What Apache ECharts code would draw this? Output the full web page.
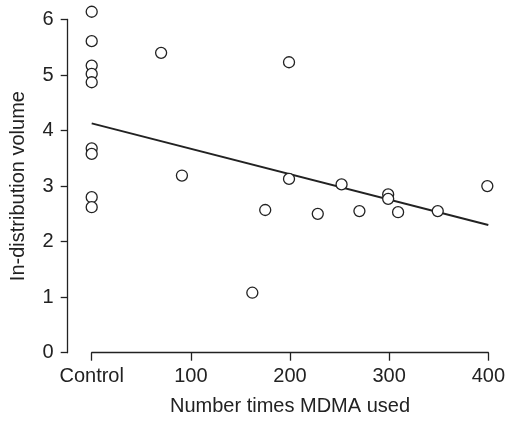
<!DOCTYPE html>
<html>
<head>
<meta charset="utf-8">
<title>In-distribution volume vs MDMA use</title>
<script src="https://cdn.jsdelivr.net/npm/echarts@6/dist/echarts.min.js"></script>
<style>
  html, body { margin: 0; padding: 0; background: #fff; }
  #chart { width: 508px; height: 423px; }
</style>
</head>
<body>
<div id="chart"></div>
<script>
// control subjects (x = 0)
const controlY = [6.14, 5.61, 5.17, 5.02, 4.87, 3.68, 3.58, 2.80, 2.62];

// MDMA users: times used, volume
const userX = [70, 91, 162, 175, 199, 199, 228, 252, 270, 299, 299, 309, 349, 399];
const userY = [5.40, 3.19, 1.08, 2.57, 5.23, 3.13, 2.50, 3.03, 2.55, 2.85, 2.77, 2.53, 2.55, 3.00];

// fitted regression line endpoints
const fitX = [0, 400];
const fitY = [4.13, 2.30];

const xTicks = [0, 100, 200, 300, 400];
const xTickLabels = ['Control', '100', '200', '300', '400'];

const points = controlY.map(function(v) { return [0, v]; })
    .concat(userX.map(function(x, i) { return [x, userY[i]]; }));
const fitLine = fitX.map(function(x, i) { return [x, fitY[i]]; });

const ink = '#222';
const font = 'Liberation Sans, Arial, Helvetica, sans-serif';

const chart = echarts.init(document.getElementById('chart'));

chart.setOption({
    animation: false,
    grid: { left: 91.7, right: 17.3, top: 19.5, bottom: 70.3 },
    xAxis: {
        type: 'value',
        min: 0,
        max: 400,
        interval: 100,
        splitLine: { show: false },
        axisLine: { onZero: false, lineStyle: { color: ink, width: 1.3 } },
        axisTick: { length: 8, lineStyle: { color: ink, width: 1.3 } },
        axisLabel: {
            margin: 14,
            color: ink,
            fontFamily: font,
            fontSize: 20,
            formatter: function(v) {
                const i = xTicks.indexOf(v);
                return i >= 0 ? xTickLabels[i] : '';
            }
        },
        name: 'Number times MDMA used',
        nameLocation: 'middle',
        nameGap: 44,
        nameTextStyle: { color: ink, fontFamily: font, fontSize: 20 }
    },
    yAxis: {
        type: 'value',
        min: 0,
        max: 6,
        interval: 1,
        offset: 24,
        splitLine: { show: false },
        axisLine: { show: true, onZero: false, lineStyle: { color: ink, width: 1.3 } },
        axisTick: { show: true, length: 7, lineStyle: { color: ink, width: 1.3 } },
        axisLabel: { margin: 14, color: ink, fontFamily: font, fontSize: 20 },
        name: 'In-distribution volume',
        nameLocation: 'middle',
        nameGap: 39,
        nameTextStyle: { color: ink, fontFamily: font, fontSize: 20 }
    },
    series: [
        {
            type: 'line',
            data: fitLine,
            symbol: 'none',
            lineStyle: { color: ink, width: 2 },
            z: 2
        },
        {
            type: 'scatter',
            data: points,
            clip: false,
            symbol: 'circle',
            symbolSize: 11,
            itemStyle: { color: '#fff', borderColor: ink, borderWidth: 1.3, opacity: 1 },
            z: 3
        }
    ]
});
</script>
</body>
</html>
